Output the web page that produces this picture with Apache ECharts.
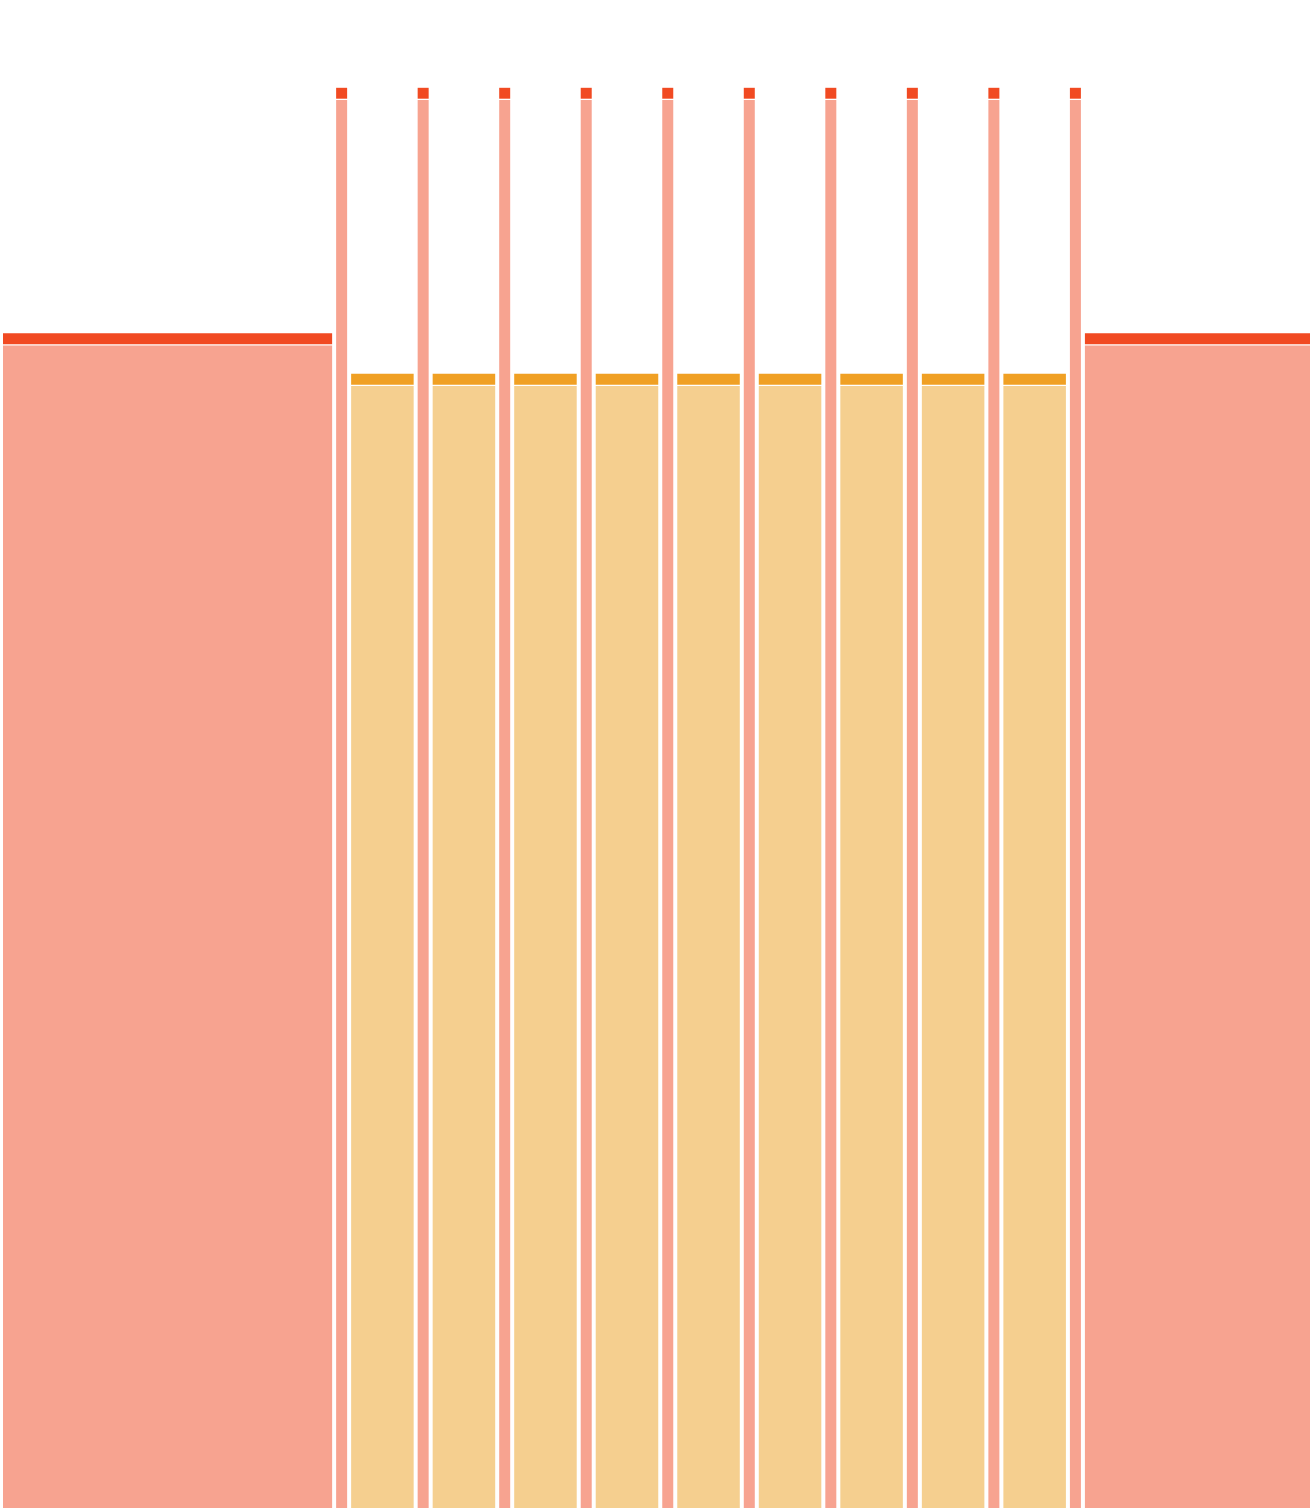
<!DOCTYPE html>
<html>
<head>
<meta charset="utf-8">
<script src="https://cdn.jsdelivr.net/npm/echarts@6/dist/echarts.min.js"></script>
<style>
  html, body { margin: 0; padding: 0; background: #ffffff; }
  #chart { width: 1312px; height: 1508px; }
</style>
</head>
<body>
<div id="chart"></div>
<script>
// Segment data
const categories = ['L', 'n1', 'y1', 'n2', 'y2', 'n3', 'y3', 'n4', 'y4', 'n5', 'y5', 'n6', 'y6', 'n7', 'y7', 'n8', 'y8', 'n9', 'y9', 'n10', 'R'];
const widths     = [333, 15, 66.5, 15, 66.5, 15, 66.5, 15, 66.5, 15, 66.5, 15, 66.5, 15, 66.5, 15, 66.5, 15, 66.5, 15, 229];
const bodyValues = [116.25, 140.8, 112.2, 140.8, 112.2, 140.8, 112.2, 140.8, 112.2, 140.8, 112.2, 140.8, 112.2, 140.8, 112.2, 140.8, 112.2, 140.8, 112.2, 140.8, 116.25];
const capValues  = [1.22, 1.22, 1.22, 1.22, 1.22, 1.22, 1.22, 1.22, 1.22, 1.22, 1.22, 1.22, 1.22, 1.22, 1.22, 1.22, 1.22, 1.22, 1.22, 1.22, 1.22];
const groups     = ['red', 'red', 'yellow', 'red', 'yellow', 'red', 'yellow', 'red', 'yellow', 'red', 'yellow', 'red', 'yellow', 'red', 'yellow', 'red', 'yellow', 'red', 'yellow', 'red', 'red'];

const palette = {
  red:    { body: '#F7A390', cap: '#F14A22' },
  yellow: { body: '#F5CF8F', cap: '#F0A024' }
};

const rows = [];
let acc = 0;
for (let i = 0; i < categories.length; i++) {
  rows.push([acc, acc + widths[i], bodyValues[i], capValues[i], i]);
  acc += widths[i];
}
const total = acc;

const chart = echarts.init(document.getElementById('chart'), null, { renderer: 'canvas' });
const GAP = 2;      // half gap between bars in px
const CAPGAP = 1.3; // white gap between cap and body in px

chart.setOption({
  animation: false,
  backgroundColor: '#ffffff',
  grid: { left: 1, right: 0, top: 8, bottom: 0 },
  xAxis: { type: 'value', min: 0, max: total, show: false },
  yAxis: { type: 'value', min: 0, max: 150, show: false },
  series: [{
    type: 'custom',
    data: rows,
    encode: { x: [0, 1], y: [2] },
    renderItem: function (params, api) {
      const x0 = api.coord([api.value(0), 0]);
      const x1 = api.coord([api.value(1), 0]);
      const top = api.coord([0, api.value(2)]);
      const capTop = api.coord([0, api.value(2) + api.value(3)]);
      const idx = api.value(4);
      const col = palette[groups[idx]];
      const left = x0[0] + GAP;
      const w = x1[0] - x0[0] - 2 * GAP;
      const bottom = x0[1];
      return {
        type: 'group',
        children: [
          {
            type: 'rect',
            shape: { x: left, y: top[1], width: w, height: bottom - top[1] },
            style: { fill: col.body }
          },
          {
            type: 'rect',
            shape: { x: left, y: capTop[1], width: w, height: top[1] - capTop[1] - CAPGAP },
            style: { fill: col.cap }
          }
        ]
      };
    }
  }]
});
</script>
</body>
</html>
